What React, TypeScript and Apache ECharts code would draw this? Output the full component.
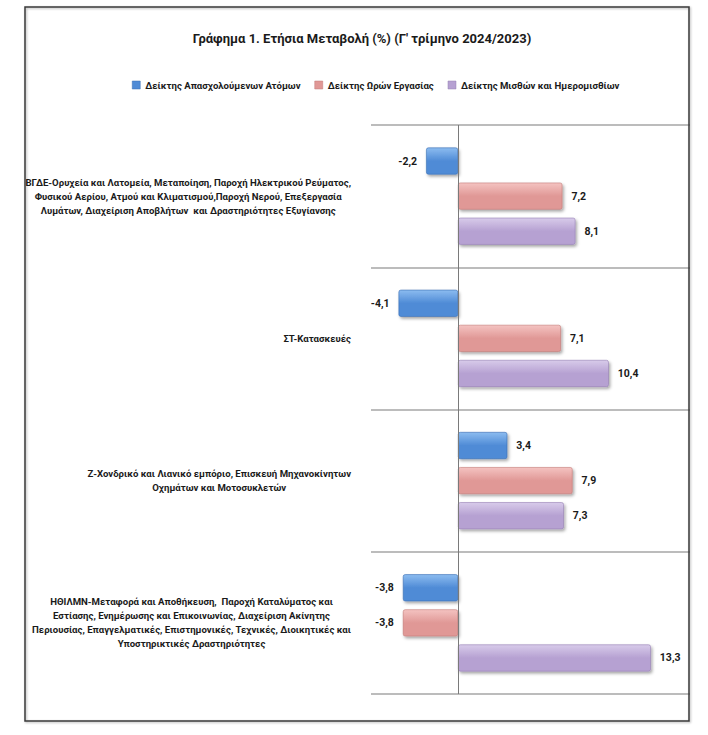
import React, { useEffect, useRef } from "react";
import * as echarts from "echarts";

const TITLE = "Γράφημα 1. Ετήσια Μεταβολή (%) (Γ' τρίμηνο 2024/2023)";

const categories: string[] = [
  "ΒΓΔΕ-Ορυχεία και Λατομεία, Μεταποίηση, Παροχή Ηλεκτρικού Ρεύματος,\nΦυσικού Αερίου, Ατμού και Κλιματισμού,Παροχή Νερού, Επεξεργασία\nΛυμάτων, Διαχείριση Αποβλήτων  και Δραστηριότητες Εξυγίανσης",
  "ΣΤ-Κατασκευές",
  "Ζ-Χονδρικό και Λιανικό εμπόριο, Επισκευή Μηχανοκίνητων\nΟχημάτων και Μοτοσυκλετών",
  "ΗΘΙΛΜΝ-Μεταφορά και Αποθήκευση,  Παροχή Καταλύματος και\nΕστίασης, Ενημέρωσης και Επικοινωνίας, Διαχείριση Ακίνητης\nΠεριουσίας, Επαγγελματικές, Επιστημονικές, Τεχνικές, Διοικητικές και\nΥποστηρικτικές Δραστηριότητες",
];

const seriesNames: string[] = [
  "Δείκτης Απασχολούμενων Ατόμων",
  "Δείκτης Ωρών Εργασίας",
  "Δείκτης Μισθών και Ημερομισθίων",
];

const employment: number[] = [-2.2, -4.1, 3.4, -3.8];
const hours: number[] = [7.2, 7.1, 7.9, -3.8];
const wages: number[] = [8.1, 10.4, 7.3, 13.3];

const FONT = "Roboto, 'Liberation Sans', sans-serif";

const grad = (top: string, bottom: string) => ({
  type: "linear",
  x: 0,
  y: 0,
  x2: 0,
  y2: 1,
  colorStops: [
    { offset: 0, color: top },
    { offset: 0.5, color: bottom },
    { offset: 1, color: bottom },
  ],
});

const palettes = [
  { fill: grad("#8cbcf0", "#4f8bd6"), border: "#3b6fb3", legend: "#4f8bd6" },
  { fill: grad("#f4c3c1", "#e09896"), border: "#c27876", legend: "#e09896" },
  { fill: grad("#d8cbea", "#b6a1d2"), border: "#9580b3", legend: "#b6a1d2" },
];

const fmt = (v: number) => String(v).replace(".", ",");

export default function App() {
  const ref = useRef<HTMLDivElement>(null);

  useEffect(() => {
    if (!ref.current) return;
    const chart = echarts.init(ref.current, undefined, { renderer: "svg" });
    const datasets = [employment, hours, wages];

    const series = datasets.map((vals, i) => ({
      name: seriesNames[i],
      type: "bar",
      barWidth: 27,
      barGap: "30%",
      itemStyle: {
        color: palettes[i].fill,
        borderColor: palettes[i].border,
        borderWidth: 0.6,
        borderRadius: 2,
        shadowColor: "rgba(0,0,0,0.35)",
        shadowBlur: 3,
        shadowOffsetX: 1.5,
        shadowOffsetY: 2,
      },
      data: vals.map((v) => ({
        value: v,
        label: { position: v < 0 ? "left" : "right" },
      })),
      label: {
        show: true,
        distance: 9,
        formatter: (p: any) => fmt(p.value),
        fontFamily: FONT,
        fontWeight: "bold",
        fontSize: 10.5,
        color: "#1a1a1a",
      },
      ...(i === 0
        ? {
            markLine: {
              silent: true,
              symbol: ["none", "none"],
              label: { show: false },
              lineStyle: { color: "#7a7a7a", width: 1, type: "solid" },
              data: [{ xAxis: 0 }],
            },
          }
        : {}),
    }));

    chart.setOption({
      animation: false,
      backgroundColor: "#ffffff",
      textStyle: { fontFamily: FONT },
      title: {
        text: TITLE,
        left: 357,
        textAlign: "center",
        top: 27,
        textStyle: {
          fontFamily: FONT,
          fontSize: 13,
          fontWeight: "bold",
          color: "#1a1a1a",
        },
      },
      legend: {
        data: seriesNames.map((n, i) => ({
          name: n,
          itemStyle: { color: palettes[i].legend, borderColor: palettes[i].border, borderWidth: 0.5 },
        })),
        left: 127,
        top: 75,
        icon: "rect",
        itemWidth: 8,
        itemHeight: 8,
        itemGap: 14,
        textStyle: {
          fontFamily: FONT,
          fontSize: 9.6,
          fontWeight: "bold",
          color: "#1a1a1a",
        },
      },
      grid: { left: 371, right: 18, top: 125, bottom: 41, containLabel: false },
      xAxis: {
        type: "value",
        min: -6,
        max: 16,
        axisLabel: { show: false },
        axisLine: { show: false },
        axisTick: { show: false },
        splitLine: { show: false },
      },
      yAxis: {
        type: "category",
        data: categories,
        inverse: true,
        axisLine: { show: false },
        axisTick: { show: false },
        splitLine: { show: true, lineStyle: { color: "#a6a6a6", width: 1.5 } },
        axisLabel: {
          margin: 20,
          align: "right",
          formatter: (v: string) =>
            v
              .split("\n")
              .map((l) => `{c|${l}}`)
              .join("\n"),
          rich: {
            c: {
              align: "center",
              fontFamily: FONT,
              fontSize: 9.6,
              fontWeight: "bold",
              lineHeight: 14,
              color: "#1a1a1a",
            },
          },
        },
      },
      graphic: [
        {
          type: "rect",
          shape: { x: 25, y: 7, width: 664, height: 714 },
          style: {
            fill: "none",
            stroke: "#3a3a3a",
            lineWidth: 1.5,
            shadowColor: "rgba(0,0,0,0.3)",
            shadowBlur: 2,
            shadowOffsetX: 1,
            shadowOffsetY: 1,
          },
          silent: true,
          z: 10,
        },
      ],
      series,
    });

    return () => chart.dispose();
  }, []);

  return (
    <div
      ref={ref}
      style={{ position: "absolute", left: 0, top: 0, width: 708, height: 735 }}
    />
  );
}
